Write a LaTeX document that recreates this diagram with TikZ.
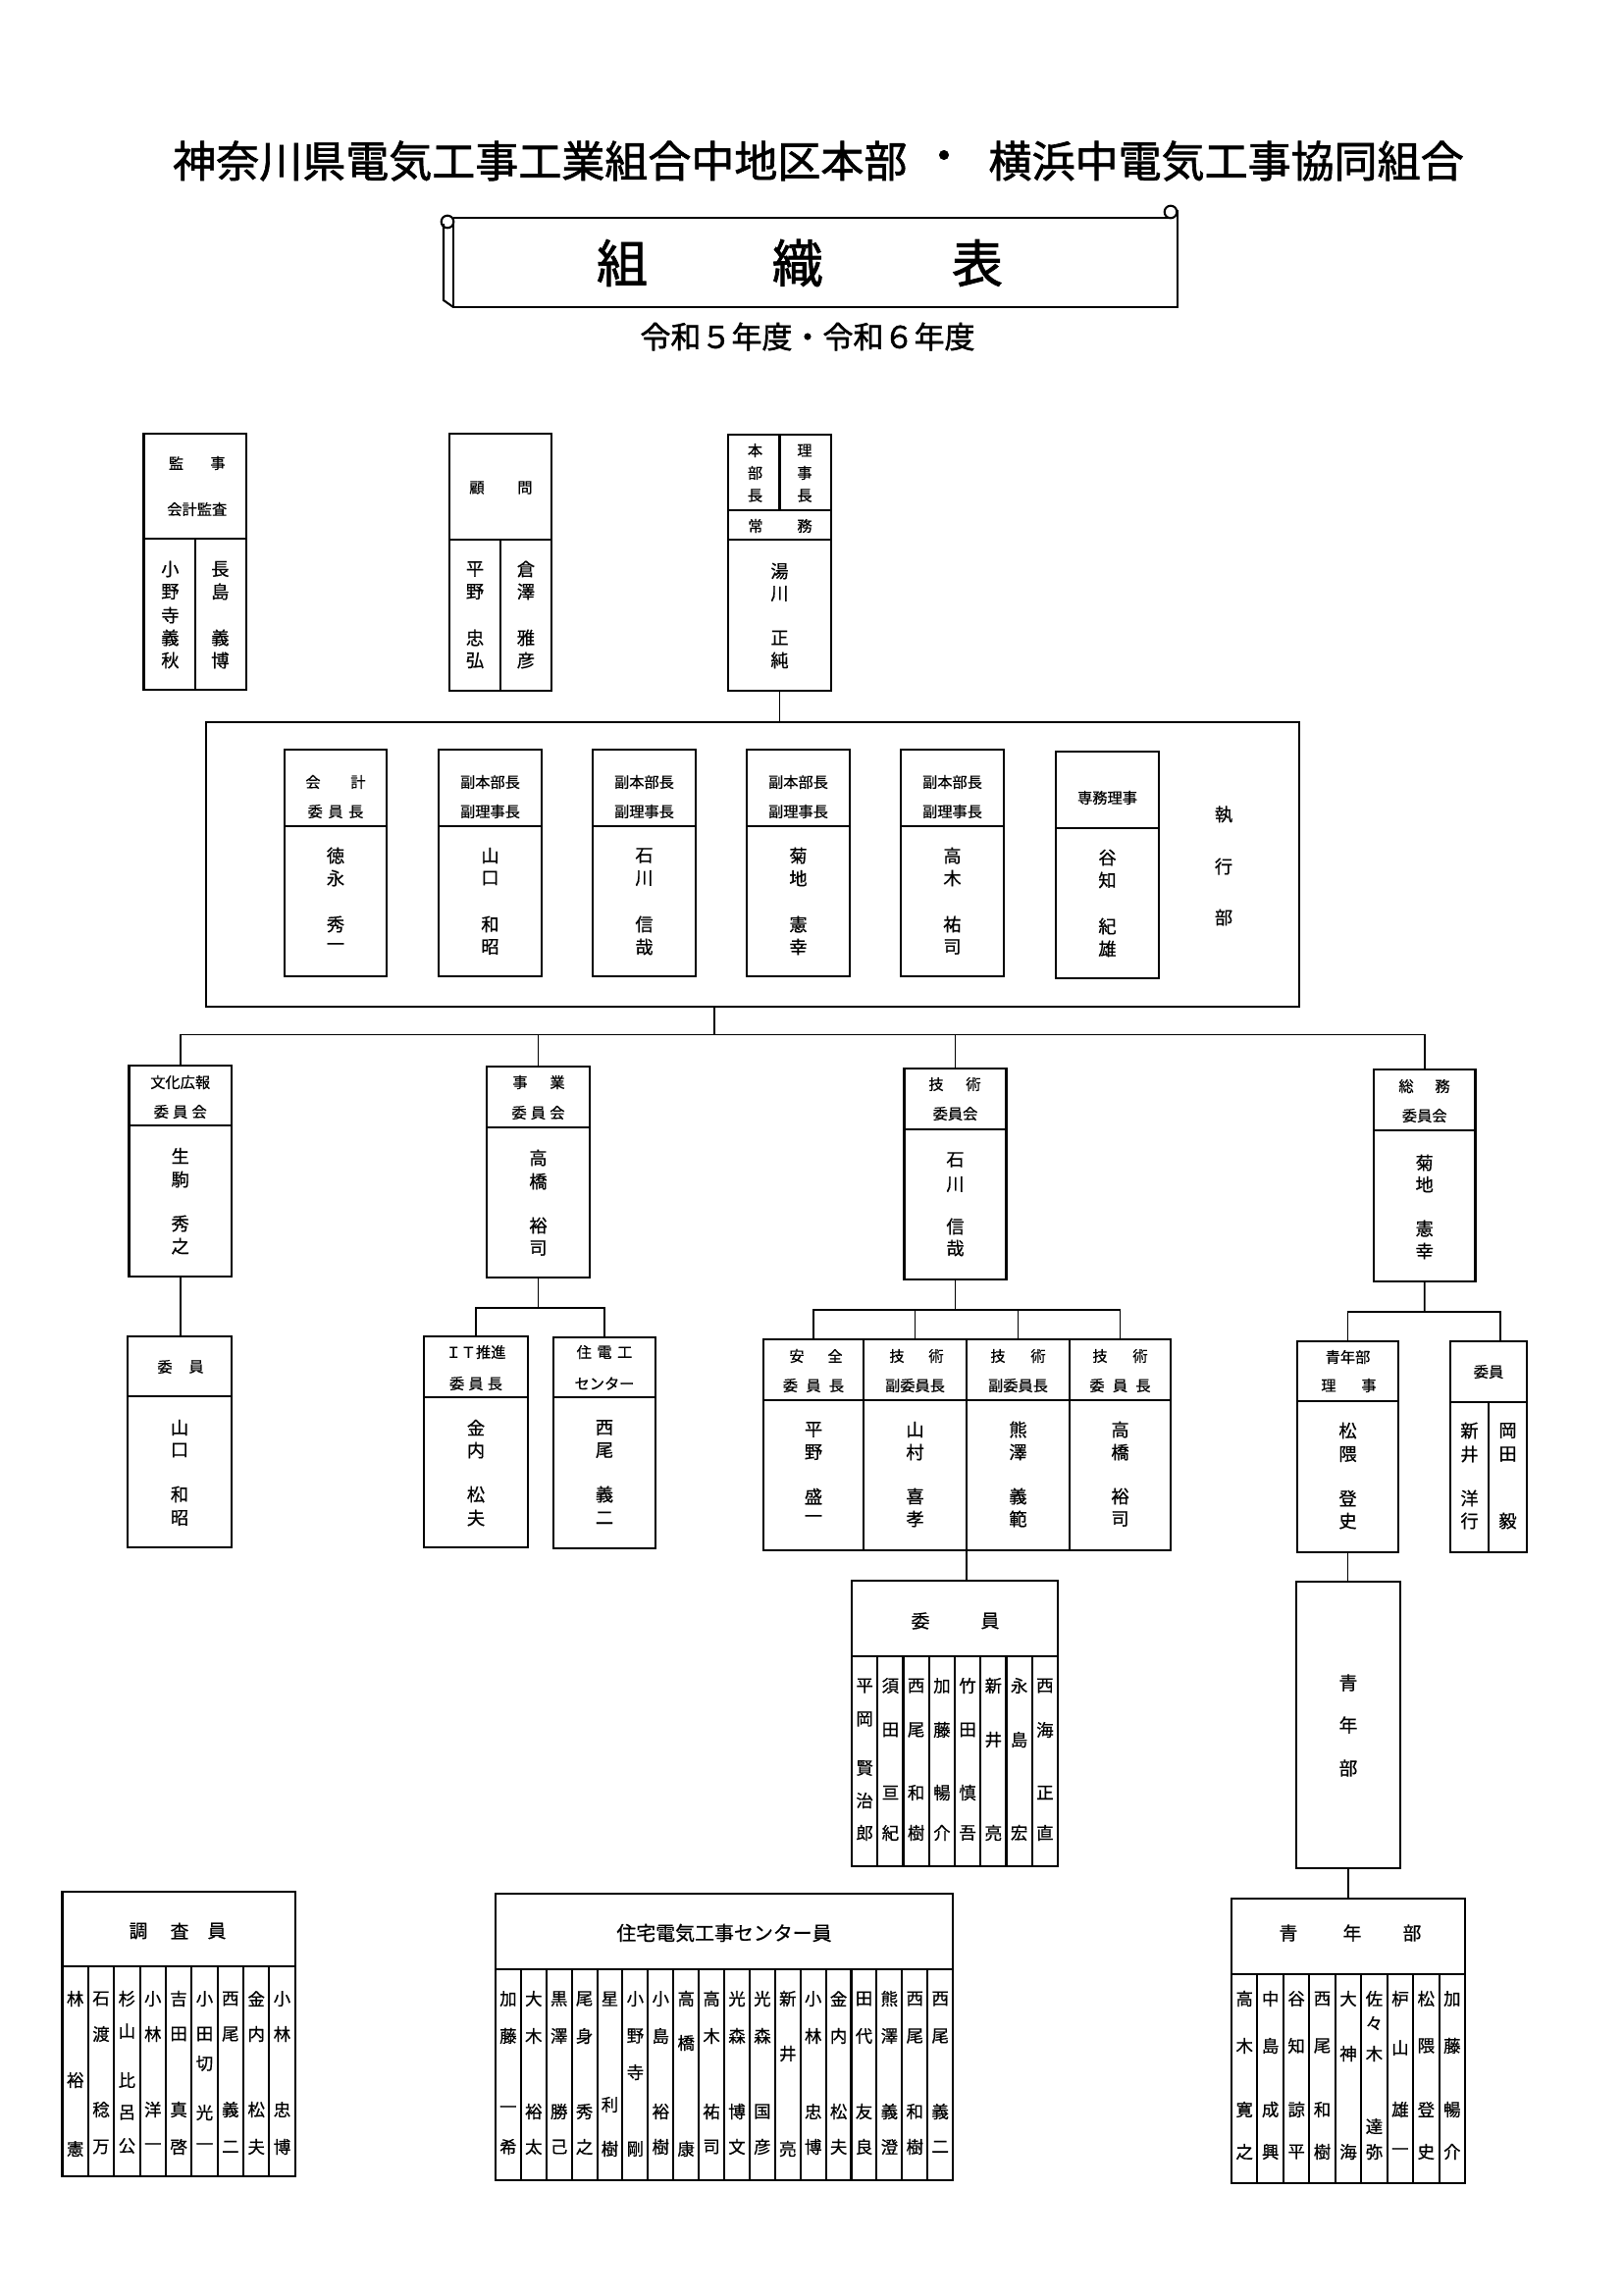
\documentclass[tikz,border=0pt]{standalone}
\usepackage{fontspec}
\usetikzlibrary{fit}
\newfontfamily\jp[FakeBold=0.6]{Noto Sans CJK JP}
\newfontfamily\jpb[FakeBold=1.5]{Noto Sans CJK JP}
\newcounter{tn}
\tikzset{
  bxs/.style={draw, line width=0.75pt, inner sep=0pt, outer sep=0pt},
  ln/.style={line width=0.75pt},
  con/.style={line width=0.6pt},
  nm/.style={inner sep=0pt, font=\jp\fontsize{6.6}{7}\selectfont},
  hd/.style={inner sep=0pt, font=\jp\fontsize{5.5}{6}\selectfont},
  ls/.style={inner sep=0pt, font=\jp\fontsize{6.3}{7}\selectfont},
  big/.style={inner sep=0pt, font=\jp\fontsize{6.8}{7}\selectfont},
}
\newcommand\bx[5]{\node[bxs, fit={(#2,#3)(#4,#5)}] (#1) {};}
\newcommand\tx[4][nm]{\stepcounter{tn}\node[#1] (t\arabic{tn}) at (#2,#3) {#4};}
\newcommand\vc[3][nm]{\foreach \yy/\cc in {#3}{\tx[#1]{#2}{\yy}{\cc}}}
\newcommand\hl[3]{\draw[ln] (#1,#3) -- (#2,#3);}
\newcommand\vl[3]{\draw[ln] (#1,#2) -- (#1,#3);}
\begin{document}
\begin{tikzpicture}[x=0.12697mm, y=-0.12697mm]
\fill[white] (0,0) rectangle (1654,2339);
\useasboundingbox (0,0) rectangle (1654,2339);
% ---------- title ----------
\node[anchor=east, inner sep=0pt, font=\jpb\fontsize{15.9}{16}\selectfont] (title1) at (925,164) {神奈川県電気工事工業組合中地区本部};
\node[inner sep=0pt, font=\jpb\fontsize{15.9}{16}\selectfont] (titled) at (962,164) {・};
\node[anchor=west, inner sep=0pt, font=\jpb\fontsize{15.9}{16}\selectfont] (title2) at (1007,164) {横浜中電気工事協同組合};
% scroll
\draw[ln] (462,222) -- (1192,222);
\draw[ln] (1200,214) -- (1200,313) -- (462,313) -- (462,222);
\draw[ln] (452,228) -- (452,306) -- (462,313);
\draw[ln] (456,226) circle[radius=0.8mm];
\draw[ln] (1193,216) circle[radius=0.8mm];
\node[inner sep=0pt, font=\jpb\fontsize{18.8}{19}\selectfont] (s1) at (634,268) {組};
\node[inner sep=0pt, font=\jpb\fontsize{18.8}{19}\selectfont] (s2) at (813,268) {織};
\node[inner sep=0pt, font=\jpb\fontsize{18.8}{19}\selectfont] (s3) at (996,268) {表};
\node[inner sep=0pt, font=\jpb\fontsize{11.2}{12}\selectfont] (year) at (823,343) {令和５年度・令和６年度};
% ---------- top boxes ----------
\bx{kanji}{146.5}{442}{251.3}{703}
\hl{146.5}{251.3}{549} \vl{198.9}{549}{703}
\tx[hd]{179.5}{472}{監}\tx[hd]{222}{472}{事}
\tx[hd]{200.8}{519}{会計監査}
\vc{173.4}{580/小,603/野,627/寺,650/義,673/秋}
\vc{224.4}{580/長,603/島,650/義,673/博}
\bx{komon}{458}{442}{562}{704}
\hl{458}{562}{550} \vl{510}{550}{704}
\tx[hd]{486}{497}{顧}\tx[hd]{535}{497}{問}
\vc{484}{580/平,603/野,650/忠,673/弘}
\vc{536}{580/倉,603/澤,650/雅,673/彦}
\bx{hq}{742}{443}{847}{704}
\vl{794.5}{443}{520} \hl{742}{847}{520} \hl{742}{847}{550}
\vc[hd]{769.5}{459/本,482/部,505/長}
\vc[hd]{820}{459/理,482/事,505/長}
\tx[hd]{770}{536}{常}\tx[hd]{820}{536}{務}
\vc{794.5}{582/湯,605/川,650/正,673/純}
% ---------- executive ----------
\bx{exec}{210}{736}{1324}{1026}
\bx{e1}{290}{764}{394}{995}\hl{290}{394}{842}
\tx[hd]{319}{797}{会}\tx[hd]{365}{797}{計}\tx[hd]{342}{827}{委\hspace{2pt}員\hspace{2pt}長}
\vc{342}{872/徳,895/永,942/秀,965/一}
\bx{e2}{447}{764}{552}{995}\hl{447}{552}{842}
\tx[hd]{499.5}{797}{副本部長}\tx[hd]{499.5}{827}{副理事長}
\vc{499.5}{872/山,895/口,942/和,965/昭}
\bx{e3}{604}{764}{709}{995}\hl{604}{709}{842}
\tx[hd]{656.5}{797}{副本部長}\tx[hd]{656.5}{827}{副理事長}
\vc{656.5}{872/石,895/川,942/信,965/哉}
\bx{e4}{761}{764}{866}{995}\hl{761}{866}{842}
\tx[hd]{813.5}{797}{副本部長}\tx[hd]{813.5}{827}{副理事長}
\vc{813.5}{872/菊,895/地,942/憲,965/幸}
\bx{e5}{918}{764}{1023}{995}\hl{918}{1023}{842}
\tx[hd]{970.5}{797}{副本部長}\tx[hd]{970.5}{827}{副理事長}
\vc{970.5}{872/高,895/木,942/祐,965/司}
\bx{e6}{1076}{766}{1181}{997}\hl{1076}{1181}{844}
\tx[hd]{1128.5}{813}{専務理事}
\vc{1128.5}{874/谷,897/知,944/紀,967/雄}
\vc{1247}{830/執,883/行,935/部}
% ---------- committees ----------
\bx{cb}{131.5}{1086}{236}{1301}\hl{131.5}{236}{1147}
\tx[hd]{183.7}{1103}{文化広報}\tx[hd]{183.7}{1133}{委\hspace{1.5pt}員\hspace{1.5pt}会}
\vc{183.7}{1178/生,1202/駒,1247/秀,1270/之}
\bx{cj}{496}{1087}{601}{1302}\hl{496}{601}{1149}
\tx[hd]{530}{1103}{事}\tx[hd]{568}{1103}{業}\tx[hd]{548.5}{1134}{委\hspace{1.5pt}員\hspace{1.5pt}会}
\vc{548.5}{1180/高,1204/橋,1249/裕,1272/司}
\bx{cg}{921.5}{1089}{1025.5}{1304}\hl{921.5}{1025.5}{1151}
\tx[hd]{954}{1105}{技}\tx[hd]{992}{1105}{術}\tx[hd]{973.5}{1135}{委員会}
\vc{973.5}{1182/石,1207/川,1250/信,1272/哉}
\bx{cs}{1400}{1090}{1503.5}{1306}\hl{1400}{1503.5}{1152}
\tx[hd]{1433}{1107}{総}\tx[hd]{1470}{1107}{務}\tx[hd]{1451.7}{1137}{委員会}
\vc{1451.7}{1185/菊,1207/地,1252/憲,1275/幸}
% ---------- level 3 ----------
\bx{ib}{130}{1362}{236}{1577}\hl{130}{236}{1423}
\tx[hd]{168}{1393}{委}\tx[hd]{200}{1393}{員}
\vc{183}{1455/山,1478/口,1523/和,1547/昭}
\bx{it}{432}{1362}{538}{1577}\hl{432}{538}{1424}
\tx[hd]{485}{1378}{ＩＴ推進}\tx[hd]{485}{1410}{委\hspace{1.5pt}員\hspace{1.5pt}長}
\vc{485}{1455/金,1478/内,1523/松,1547/夫}
\bx{jd}{564}{1363}{668}{1578}\hl{564}{668}{1424}
\tx[hd]{616}{1378}{住\hspace{2pt}電\hspace{2pt}工}\tx[hd]{616}{1410}{センター}
\vc{616}{1455/西,1478/尾,1523/義,1547/二}
% technical group
\bx{g1}{778}{1365}{880}{1580}
\bx{g2}{880}{1365}{985}{1580}
\bx{g3}{985}{1365}{1090}{1580}
\bx{g4}{1090}{1365}{1193}{1580}
\hl{778}{1193}{1427}
\tx[hd]{812}{1382}{安}\tx[hd]{851}{1382}{全}
\tx[hd]{914}{1382}{技}\tx[hd]{954}{1382}{術}
\tx[hd]{1017}{1382}{技}\tx[hd]{1058}{1382}{術}
\tx[hd]{1121}{1382}{技}\tx[hd]{1162}{1382}{術}
\tx[hd]{829}{1412}{委\hspace{3pt}員\hspace{3pt}長}
\tx[hd]{932.5}{1412}{副委員長}
\tx[hd]{1037.5}{1412}{副委員長}
\tx[hd]{1141.5}{1412}{委\hspace{3pt}員\hspace{3pt}長}
\vc{829}{1457/平,1480/野,1525/盛,1548/一}
\vc{932.5}{1457/山,1480/村,1525/喜,1548/孝}
\vc{1037.5}{1457/熊,1480/澤,1525/義,1548/範}
\vc{1141.5}{1457/高,1480/橋,1525/裕,1548/司}
% technical members
\bx{gi}{868}{1611}{1078}{1902}\hl{868}{1078}{1688}
\foreach \i in {1,...,7} \draw[ln] (868+\i*26.25,1688) -- (868+\i*26.25,1902);
\tx[big]{938}{1652}{委}\tx[big]{1009}{1652}{員}
\vc[ls]{881.1}{1718/平,1752/岡,1802/賢,1835/治,1868/郎}
\vc[ls]{907.4}{1718/須,1763/田,1827/亘,1868/紀}
\vc[ls]{933.6}{1718/西,1763/尾,1827/和,1868/樹}
\vc[ls]{959.9}{1718/加,1763/藤,1827/暢,1868/介}
\vc[ls]{986.1}{1718/竹,1763/田,1827/慎,1868/吾}
\vc[ls]{1012.4}{1718/新,1773/井,1868/亮}
\vc[ls]{1038.6}{1718/永,1773/島,1868/宏}
\vc[ls]{1064.9}{1718/西,1763/海,1827/正,1868/直}
% general affairs sub
\bx{sy}{1322}{1367}{1425}{1582}\hl{1322}{1425}{1428}
\tx[hd]{1373.5}{1383}{青年部}\tx[hd]{1354}{1412}{理}\tx[hd]{1395}{1412}{事}
\vc{1373.5}{1458/松,1482/隈,1527/登,1550/史}
\bx{si}{1478}{1367}{1556}{1582}\hl{1478}{1556}{1429}\vl{1517}{1429}{1582}
\tx[hd]{1517}{1398}{委員}
\vc{1497.5}{1458/新,1482/井,1527/洋,1550/行}
\vc{1536.5}{1458/岡,1482/田,1550/毅}
\bx{sb}{1321}{1612}{1427}{1904}
\vc[big]{1374}{1715/青,1758/年,1802/部}
% ---------- bottom lists ----------
\bx{ch}{63.5}{1928}{300.7}{2218}\hl{63.5}{300.7}{2004}
\foreach \i in {1,...,8} \draw[ln] (63.5+\i*26.36,2004) -- (63.5+\i*26.36,2218);
\tx[big]{141}{1968}{調}\tx[big]{183}{1968}{査}\tx[big]{221}{1968}{員}
\vc[ls]{76.7}{2037/林,2120/裕,2190/憲}
\vc[ls]{103.0}{2037/石,2073/渡,2150/稔,2188/万}
\vc[ls]{129.4}{2037/杉,2070/山,2120/比,2153/呂,2187/公}
\vc[ls]{155.8}{2037/小,2073/林,2150/洋,2188/一}
\vc[ls]{182.1}{2037/吉,2073/田,2150/真,2188/啓}
\vc[ls]{208.5}{2037/小,2073/田,2103/切,2153/光,2188/一}
\vc[ls]{234.8}{2037/西,2073/尾,2150/義,2188/二}
\vc[ls]{261.2}{2037/金,2073/内,2150/松,2188/夫}
\vc[ls]{287.5}{2037/小,2073/林,2150/忠,2188/博}
\bx{jc}{505}{1930}{971}{2222}\hl{505}{971}{2007}
\foreach \i in {1,...,17} \draw[ln] (505+\i*25.89,2007) -- (505+\i*25.89,2222);
\tx[inner sep=0pt, font=\jp\fontsize{7.2}{8}\selectfont]{738}{1970}{住宅電気工事センター員}
\vc[ls]{517.9}{2037/加,2075/藤,2150/一,2188/希}
\vc[ls]{543.8}{2037/大,2075/木,2152/裕,2188/太}
\vc[ls]{569.7}{2037/黒,2075/澤,2152/勝,2188/己}
\vc[ls]{595.6}{2037/尾,2075/身,2152/秀,2188/之}
\vc[ls]{621.5}{2037/星,2145/利,2190/樹}
\vc[ls]{647.4}{2037/小,2075/野,2112/寺,2190/剛}
\vc[ls]{673.3}{2037/小,2075/島,2152/裕,2188/樹}
\vc[ls]{699.2}{2037/高,2082/橋,2190/康}
\vc[ls]{725.1}{2037/高,2075/木,2152/祐,2188/司}
\vc[ls]{751.0}{2037/光,2075/森,2152/博,2188/文}
\vc[ls]{776.9}{2037/光,2075/森,2152/国,2188/彦}
\vc[ls]{802.8}{2037/新,2093/井,2190/亮}
\vc[ls]{828.7}{2037/小,2075/林,2152/忠,2188/博}
\vc[ls]{854.6}{2037/金,2075/内,2152/松,2188/夫}
\vc[ls]{880.5}{2037/田,2075/代,2152/友,2188/良}
\vc[ls]{906.4}{2037/熊,2075/澤,2152/義,2188/澄}
\vc[ls]{932.3}{2037/西,2075/尾,2152/和,2188/樹}
\vc[ls]{958.2}{2037/西,2075/尾,2152/義,2188/二}
\bx{sl}{1255}{1935}{1493}{2225}\hl{1255}{1493}{2012}
\foreach \i in {1,...,8} \draw[ln] (1255+\i*26.44,2012) -- (1255+\i*26.44,2225);
\tx[big]{1313}{1970}{青}\tx[big]{1378}{1970}{年}\tx[big]{1439}{1970}{部}
\vc[ls]{1268.2}{2037/高,2085/木,2150/寛,2193/之}
\vc[ls]{1294.7}{2037/中,2085/島,2150/成,2193/興}
\vc[ls]{1321.1}{2037/谷,2085/知,2150/諒,2193/平}
\vc[ls]{1347.5}{2037/西,2085/尾,2150/和,2193/樹}
\vc[ls]{1374.0}{2037/大,2093/神,2193/海}
\vc[ls]{1400.4}{2037/佐,2062/々,2093/木,2167/達,2193/弥}
\vc[ls]{1426.9}{2037/枦,2087/山,2150/雄,2193/一}
\vc[ls]{1453.3}{2037/松,2085/隈,2150/登,2193/史}
\vc[ls]{1479.8}{2037/加,2085/藤,2150/暢,2193/介}
% ---------- connectors ----------
\draw[con] (hq.south) -- (hq.south |- exec.north);
\coordinate (busA) at (728,1054.5);
\draw[con] (exec.south -| busA) -- (busA);
\draw[con] (busA) -| (cb.north);
\draw[con] (busA) -| (cj.north);
\draw[con] (busA) -| (cg.north);
\draw[con] (busA) -| (cs.north);
\draw[con] (cb.south) -- (cb.south |- ib.north);
\coordinate (busB) at (548.5,1333);
\draw[con] (cj.south) -- (busB);
\draw[con] (busB) -| (it.north);
\draw[con] (busB) -| (jd.north);
\coordinate (busC) at (973.5,1335);
\draw[con] (cg.south) -- (busC);
\foreach \g in {g1,g2,g3,g4} \draw[con] (busC) -| (\g.north);
\draw[con] (g2.south east) -- (g2.south east |- gi.north);
\coordinate (busD) at (1451.7,1337);
\coordinate (siTop) at (1529,1367);
\draw[con] (cs.south) -- (busD);
\draw[con] (busD) -| (sy.north);
\draw[con] (busD) -| (siTop);
\draw[con] (sy.south) -- (sy.south |- sb.north);
\draw[con] (sb.south) -- (sb.south |- sl.north);
\end{tikzpicture}
\end{document}
